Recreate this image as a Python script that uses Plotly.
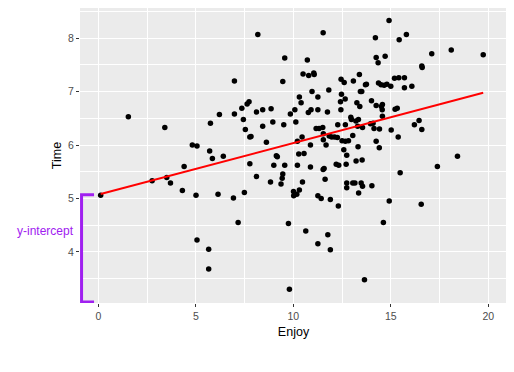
import plotly.graph_objects as go

# ---- data ----
enjoy = [0.12, 1.54, 2.76, 3.41, 3.51, 3.70, 4.31, 4.40, 4.82, 5.06, 5.01, 5.06, 5.66, 5.66, 5.71,
         5.75, 5.85, 6.14, 6.21, 6.41, 6.93, 6.98, 6.98, 7.17, 7.36, 7.44, 7.49, 7.54, 7.63, 7.73,
         7.77, 7.83, 7.77, 8.11, 8.11, 8.18, 8.43, 8.43, 8.62, 8.83, 8.86, 8.95, 9.00, 9.13, 9.18,
         9.37, 9.43, 9.46, 9.46, 9.51, 9.56, 9.56, 9.75, 9.80, 9.85, 10.01, 10.02, 10.08, 10.13, 10.21,
         10.18, 10.21, 10.28, 10.31, 10.31, 10.40, 10.45, 10.47, 10.50, 10.55, 10.64, 10.72, 10.77, 10.79, 10.88,
         10.88, 10.91, 10.96, 11.05, 11.07, 11.17, 11.26, 11.26, 11.26, 11.26, 11.32, 11.43, 11.51, 11.53, 11.53,
         11.58, 11.54, 11.54, 11.63, 11.68, 11.75, 11.77, 11.82, 11.84, 11.90, 11.90, 11.97, 12.12, 12.26, 12.20,
         12.28, 12.31, 12.33, 12.42, 12.44, 12.45, 12.47, 12.50, 12.59, 12.61, 12.66, 12.67, 12.67, 12.71, 12.74,
         12.74, 12.74, 12.83, 12.95, 12.98, 13.05, 13.05, 13.08, 13.16, 13.21, 13.22, 13.26, 13.30, 13.32, 13.34,
         13.35, 13.39, 13.41, 13.44, 13.51, 13.48, 13.53, 13.55, 13.55, 13.65, 13.70, 13.75, 13.96, 14.01, 14.03,
         14.09, 14.14, 14.21, 14.25, 14.25, 14.25, 14.35, 14.37, 14.41, 14.42, 14.50, 14.52, 14.57, 14.56, 14.57,
         14.62, 14.66, 14.71, 14.80, 14.91, 14.92, 15.00, 15.02, 15.19, 15.22, 15.33, 15.38, 15.41, 15.43, 15.48,
         15.70, 15.70, 15.80, 16.08, 16.21, 16.45, 16.56, 16.59, 16.61, 16.59, 17.10, 17.39, 18.10, 18.42, 19.74]
time = [5.06, 6.53, 5.33, 6.33, 5.39, 5.29, 5.15, 5.60, 6.00, 5.98, 5.06, 4.22, 4.05, 3.68, 5.89,
        6.41, 5.75, 5.08, 6.57, 5.79, 5.01, 7.20, 6.58, 4.55, 6.69, 6.48, 5.11, 6.29, 6.77, 6.81,
        6.15, 6.16, 5.65, 5.41, 6.62, 8.07, 6.66, 6.35, 6.05, 5.31, 6.68, 6.43, 5.62, 5.80, 5.78,
        5.27, 5.38, 5.46, 7.19, 6.38, 7.63, 5.62, 4.53, 3.30, 6.58, 5.13, 5.05, 6.66, 6.43, 6.07,
        5.08, 5.62, 5.83, 5.16, 6.90, 6.79, 6.15, 5.31, 7.33, 5.84, 4.39, 7.59, 6.61, 7.30, 6.00,
        5.59, 6.66, 7.00, 7.35, 7.32, 6.31, 6.90, 6.66, 5.05, 4.15, 6.31, 5.00, 6.33, 8.10, 5.54,
        5.56, 6.21, 6.10, 5.36, 6.00, 6.62, 4.32, 7.03, 6.17, 4.98, 4.04, 6.15, 6.15, 6.14, 5.64,
        6.38, 4.86, 5.62, 6.81, 6.66, 7.23, 6.95, 6.08, 5.91, 7.17, 6.86, 6.38, 6.07, 5.64, 5.81,
        5.29, 5.20, 6.08, 6.52, 6.48, 6.18, 5.29, 7.20, 5.29, 6.45, 5.70, 6.79, 6.35, 5.97, 6.48,
        5.10, 7.32, 6.72, 7.00, 7.00, 5.29, 5.72, 6.33, 5.23, 3.48, 7.13, 7.14, 6.40, 6.83, 5.24,
        6.41, 6.31, 8.01, 7.64, 6.74, 6.07, 7.54, 7.16, 5.95, 6.30, 7.13, 6.72, 6.76, 6.66, 6.54,
        4.55, 7.12, 7.66, 7.14, 8.33, 4.95, 7.10, 6.28, 7.25, 6.67, 6.69, 6.15, 7.26, 7.97, 5.48,
        7.26, 7.07, 8.07, 7.10, 6.38, 6.46, 4.89, 7.48, 7.45, 6.29, 7.71, 5.60, 7.78, 5.79, 7.69]

fit_intercept = 5.07
fit_slope = 0.0967

x_ticks = [0, 5, 10, 15, 20]
y_ticks = [4, 5, 6, 7, 8]
x_title = "Enjoy"
y_title = "Time"
bracket_label = "y-intercept"

x_range = [-0.94, 20.96]
y_range = [3.043, 8.565]

FONT = "Liberation Sans, Arial, sans-serif"

# ---- figure ----
fig = go.Figure()

fig.add_trace(go.Scatter(
    x=enjoy, y=time, mode="markers",
    marker=dict(color="black", size=5.5, line=dict(width=0)),
    hoverinfo="skip", showlegend=False))

x0, x1 = min(enjoy), max(enjoy)
fig.add_trace(go.Scatter(
    x=[x0, x1], y=[fit_intercept + fit_slope * x0, fit_intercept + fit_slope * x1],
    mode="lines", line=dict(color="red", width=2),
    hoverinfo="skip", showlegend=False))

# purple bracket marking the intercept
bx_left, bx_right = -0.86, -0.22
b_top, b_bottom = fit_intercept, y_range[0] + 0.02
fig.add_shape(type="path", xref="x", yref="y", layer="above",
              path=f"M {bx_right},{b_top} L {bx_left},{b_top} L {bx_left},{b_bottom} L {bx_right},{b_bottom}",
              line=dict(color="#A020F0", width=3))
fig.add_annotation(x=0, y=4.40, xref="paper", yref="y",
                   text=bracket_label, showarrow=False, xanchor="right", yanchor="middle",
                   xshift=-4,
                   font=dict(color="#A020F0", size=12, family=FONT))

axis_common = dict(
    showgrid=True, gridcolor="white", gridwidth=1.1,
    zeroline=False, showline=False,
    ticks="outside", ticklen=3, tickwidth=1, tickcolor="#333333",
    tickfont=dict(color="#4D4D4D", size=10.5, family=FONT),
)

fig.update_xaxes(range=x_range, tickvals=x_ticks, ticktext=[str(v) for v in x_ticks],
                 minor=dict(showgrid=True, gridcolor="white", gridwidth=0.5, dtick=2.5, tick0=2.5),
                 title=dict(text=x_title, standoff=6,
                            font=dict(color="black", size=12.5, family=FONT)),
                 **axis_common)
fig.update_yaxes(range=y_range, tickvals=y_ticks, ticktext=[str(v) for v in y_ticks],
                 minor=dict(showgrid=True, gridcolor="white", gridwidth=0.5, dtick=1, tick0=3.5),
                 title=dict(text=y_title, standoff=3,
                            font=dict(color="black", size=12.5, family=FONT)),
                 **axis_common)

# page body has an 8px default margin, so the figure is sized/offset to compensate
fig.update_layout(
    width=506, height=364,
    margin=dict(l=72, r=7, t=0, b=69),
    plot_bgcolor="#EBEBEB", paper_bgcolor="white",
    showlegend=False,
)

fig.write_html("out.html")
